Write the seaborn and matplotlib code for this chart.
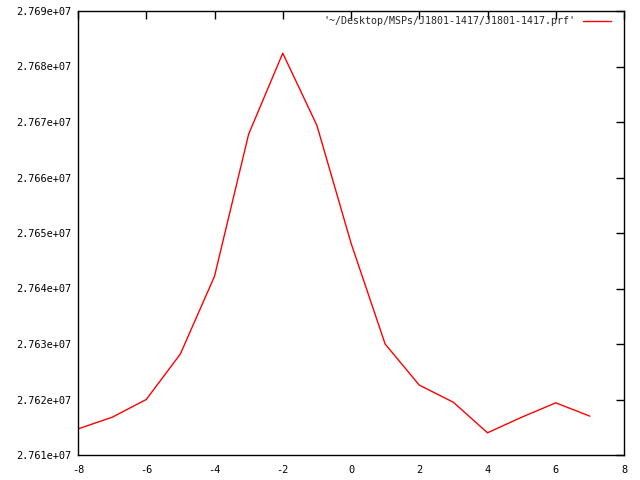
import matplotlib
matplotlib.use("Agg")
import matplotlib.pyplot as plt
import seaborn as sns
import pandas as pd
from matplotlib.ticker import FuncFormatter, MultipleLocator

x_vals = [-8, -7, -6, -5, -4, -3, -2, -1, 0, 1, 2, 3, 4, 5, 6, 7]
y_vals = [2.76147e7, 2.76168e7, 2.76200e7, 2.76282e7, 2.76422e7, 2.76678e7,
          2.76824e7, 2.76694e7, 2.76482e7, 2.76300e7, 2.76226e7, 2.76195e7,
          2.76140e7, 2.76168e7, 2.76194e7, 2.76170e7]
series_label = "'~/Desktop/MSPs/J1801-1417/J1801-1417.prf'"

sns.set_style("white")
plt.rcParams['font.family'] = ['DejaVu Sans Mono']

df = pd.DataFrame({"x": x_vals, "y": y_vals})

fig = plt.figure(figsize=(6.4, 4.8), dpi=100)
ax = fig.add_axes([78/640, 25/480, (624-78)/640, (455-11)/480])
sns.lineplot(data=df, x="x", y="y", ax=ax, color="#ff0000", linewidth=1.0,
             label=series_label)

ax.set_xlim(-8, 8)
ax.set_ylim(2.761e7, 2.769e7)
ax.xaxis.set_major_locator(MultipleLocator(2))
ax.yaxis.set_major_locator(MultipleLocator(1e4))
ax.yaxis.set_major_formatter(FuncFormatter(lambda v, p: "%.3e" % v))
ax.xaxis.set_major_formatter(FuncFormatter(lambda v, p: "%d" % round(v)))
ax.set_xlabel("")
ax.set_ylabel("")
ax.tick_params(direction="in", length=6, width=1, top=True, right=True,
               labelsize=7.4, colors="black")
ax.tick_params(axis="y", pad=4.5)
ax.tick_params(axis="x", pad=7)
for s in ax.spines.values():
    s.set_color("black")
    s.set_linewidth(1.0)
    s.set_visible(True)

leg = ax.legend(loc="upper right", frameon=False, markerfirst=False,
                fontsize=7.2, handlelength=2.8, borderaxespad=0, borderpad=0,
                handletextpad=0.8,
                bbox_to_anchor=(611/640, 464/480),
                bbox_transform=fig.transFigure)

fig.savefig("out.png", dpi=100, facecolor="white")
